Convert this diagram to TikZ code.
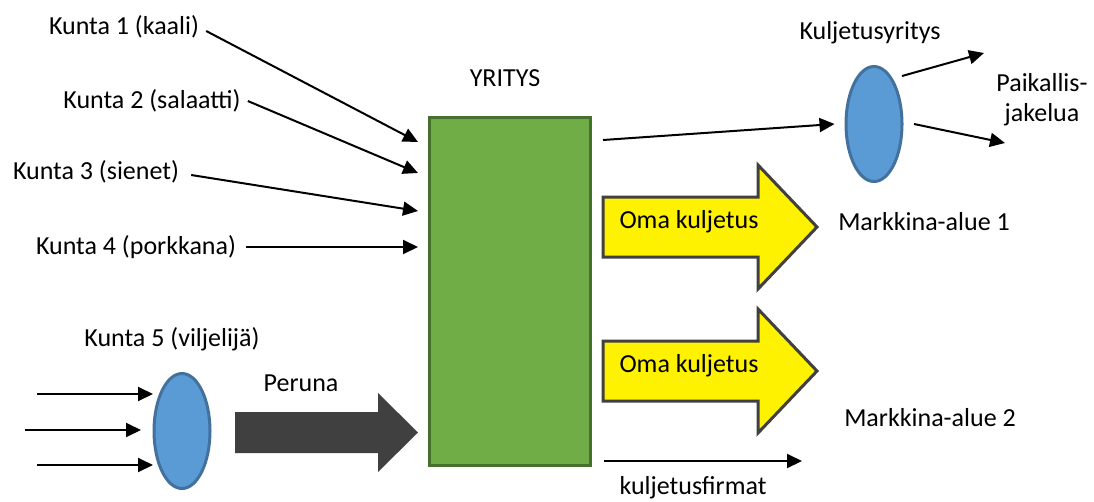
\documentclass[tikz,border=0pt]{standalone}
\usepackage{fontspec}
\setmainfont{Carlito}
\usetikzlibrary{arrows.meta,shapes.geometric}
\definecolor{firmfill}{HTML}{70AD47}
\definecolor{firmedge}{HTML}{46702D}
\definecolor{hubfill}{HTML}{5B9BD5}
\definecolor{hubedge}{HTML}{41719C}
\definecolor{darkarrow}{HTML}{404040}
\begin{document}
\begin{tikzpicture}[x=1pt,y=-1pt,
  lbl/.style={font=\fontsize{26}{30}\selectfont, inner sep=0pt},
  flow/.style={line width=2pt, -{Triangle[length=15pt,width=14pt]}},
  hub/.style={ellipse, draw=hubedge, fill=hubfill, line width=3pt,
    minimum width=56pt, minimum height=115pt, inner sep=0pt},
  bigarrow/.style={fill=yellow, draw=darkarrow, line width=3pt, line join=miter},
]
\useasboundingbox (0,0) rectangle (1094,501);

% the company block
\node[draw=firmedge, fill=firmfill, line width=3pt, minimum width=161pt,
  minimum height=348pt, inner sep=0pt] (firm) at (510,291.5) {};
\node[lbl] (yritys) at (505,78) {YRITYS};

% municipalities delivering directly
\node[lbl] (k1) at (124,27) {Kunta 1 (kaali)};
\node[lbl] (k2) at (152,101) {Kunta 2 (salaatti)};
\node[lbl] (k3) at (96,172) {Kunta 3 (sienet)};
\node[lbl] (k4) at (136,247) {Kunta 4 (porkkana)};
\coordinate (in1) at (418,142);
\coordinate (in2) at (418,173);
\coordinate (in3) at (418,211);
\coordinate (in4) at (418,247);
\draw[flow] ([xshift=7pt,yshift=-4pt]k1.east) -- (in1);
\draw[flow] ([xshift=7pt]k2.east) -- (in2);
\draw[flow] ([xshift=12pt,yshift=-3pt]k3.east) -- (in3);
\draw[flow] ([xshift=10pt]k4.east) -- (in4);

% municipality 5: growers gathered into one flow
\node[lbl] (k5) at (172,339) {Kunta 5 (viljelijä)};
\node[hub] (e5) at (182,431) {};
\coordinate (g1) at (37,394);
\coordinate (g2) at (25,430);
\coordinate (g3) at (37,465);
\draw[flow] (g1) -- (153,394);
\draw[flow] (g2) -- (141,430);
\draw[flow] (g3) -- (153,465);
\node[lbl] (peruna) at (301,383) {Peruna};
\fill[darkarrow] (235,412) -- (378,412) -- (378,393) -- (418,432.5)
  -- (378,472) -- (378,453) -- (235,453) -- cycle;

% transport company and local distribution
\node[hub] (e2) at (874,124) {};
\node[lbl] (kyr) at (870,33) {Kuljetusyritys};
\coordinate (out1) at (603,140);
\draw[flow] (out1) -- ([xshift=-10pt]e2.west);
\coordinate (p1) at (984,53);
\coordinate (p2) at (1005,143);
\draw[flow] (902,76) -- (p1);
\draw[flow] (914,124) -- (p2);
\node[lbl, align=center] (paik) at (1042,100) {Paikallis-\\jakelua};

% own transport to the market areas
\foreach \c/\n in {227/1, 371/2}{
  \draw[bigarrow] (603,\c-30) -- (758,\c-30) -- (758,\c-62) -- (817,\c)
    -- (758,\c+62) -- (758,\c+30) -- (603,\c+30) -- cycle;
}
\node[lbl] (oma1) at (689,222) {Oma kuljetus};
\node[lbl] (oma2) at (689,366) {Oma kuljetus};
\node[lbl] (ma1) at (924,222) {Markkina-alue 1};
\node[lbl] (ma2) at (930,418) {Markkina-alue 2};

% hired carriers
\coordinate (out2) at (604,461);
\draw[flow] (out2) -- (802,461);
\node[lbl] (kf) at (693,488) {kuljetusfirmat};
\end{tikzpicture}
\end{document}
